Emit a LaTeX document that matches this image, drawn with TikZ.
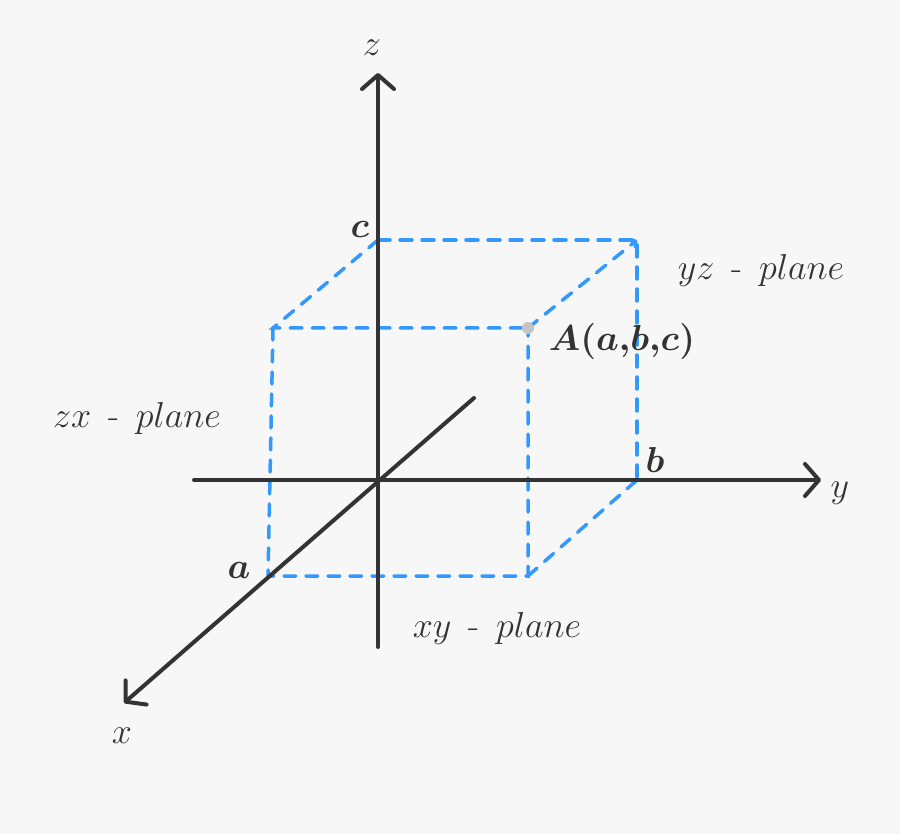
\documentclass[tikz,border=0pt]{standalone}
\usepackage{graphicx}
\usetikzlibrary{arrows.meta}
\definecolor{bg}{HTML}{F7F7F7}
\definecolor{ink}{HTML}{333333}
\definecolor{dashblue}{HTML}{3399FF}
\definecolor{dotgray}{HTML}{C4C4C4}
\newcommand{\biglab}[1]{\scalebox{1.45}{#1}}
\begin{document}
\begin{tikzpicture}[x=1pt,y=-1pt,
  axis/.style={draw=ink,line width=4pt,line cap=round},
  axisarrow/.style={axis,-{Straight Barb[length=14pt,width=32pt,round]}},
  boxline/.style={draw=dashblue,line width=3.5pt,line cap=round,dash pattern=on 12pt off 10pt},
  lab/.style={text=ink,anchor=base,inner sep=0pt,font=\fontsize{24.88}{30}\selectfont},
  blab/.style={lab,font=\fontsize{24.88}{30}\selectfont\boldmath}]
\fill[bg] (0,0) rectangle (900,834);
\useasboundingbox (0,0) rectangle (900,834);
% corners
\coordinate (O) at (378,481);
\coordinate (C) at (378,240);
\coordinate (Cb) at (637,240);
\coordinate (B) at (637,480);
\coordinate (T1) at (273,328);
\coordinate (A) at (528,328);
\coordinate (Aa) at (268,576);
\coordinate (F) at (528,576);
% dashed box
\draw[boxline] (C) -- (Cb) -- (B);
\draw[boxline] (C) -- (T1) -- (A);
\draw[boxline,-{Straight Barb[length=4pt,width=9pt,round]}] (A) -- (Cb);
\draw[boxline] (T1) -- (Aa) -- (F) -- (A);
\draw[boxline] (F) -- (B);
% axes
\coordinate (zS) at (378,647);
\coordinate (zE) at (378,73);
\coordinate (yS) at (194,480);
\coordinate (yE) at (821,480);
\coordinate (xS) at (474,398);
\coordinate (xE) at (124,703);
\draw[axisarrow] (zS) -- (zE);
\draw[axisarrow] (yS) -- (yE);
\draw[axisarrow] (xS) -- (xE);
% point
\fill[dotgray] (A) circle (6pt);
% labels
\node[lab] (lz) at (372,56) {\biglab{$z$}};
\node[lab] (ly) at (840,497) {\biglab{$y$}};
\node[lab] (lx) at (122,743) {\biglab{$x$}};
\node[blab] (lc) at (360,238) {\biglab{$c$}};
\node[blab] (lb) at (655,472) {\biglab{$b$}};
\node[blab] (la) at (239,578) {\biglab{$a$}};
\node[blab] (lA) at (622,351) {\biglab{$A(a{,}b{,}c)$}};
\node[lab] (lyz) at (761,280) {\biglab{$yz$\ \,-\ \,$plane$}};
\node[lab] (lzx) at (137,428) {\biglab{$zx$\ \,-\ \,$plane$}};
\node[lab] (lxy) at (497,637) {\biglab{$xy$\ \,-\ \,$plane$}};
\end{tikzpicture}
\end{document}
